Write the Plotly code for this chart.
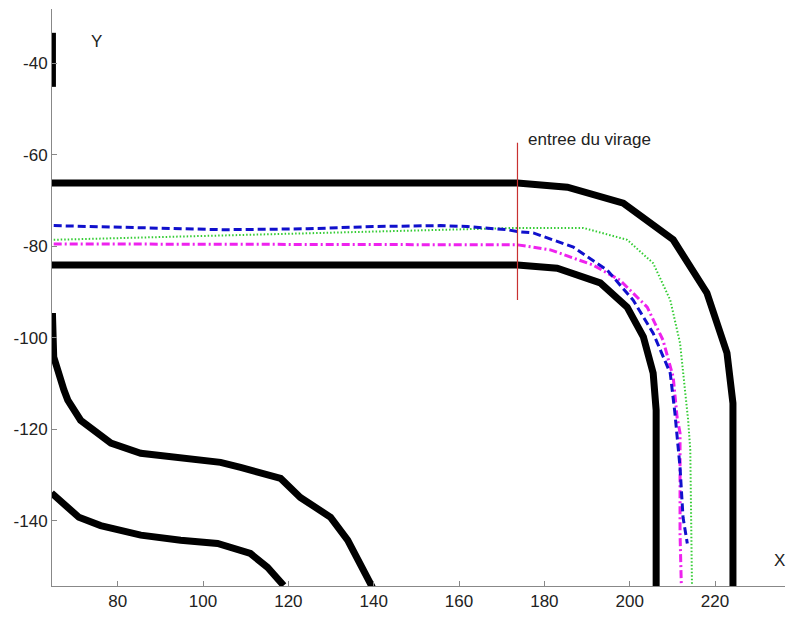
import plotly.graph_objects as go

# Track boundaries
outer_x = [64.6, 173.7, 185.4, 198.5, 210.2, 218.1, 222.8, 224.2, 224.2]
outer_y = [-66.2, -66.2, -67.1, -70.6, -78.6, -90.2, -103.3, -114.3, -154.2]
inner_x = [64.6, 173.7, 183.0, 193.1, 199.4, 203.2, 205.5, 206.2, 206.2]
inner_y = [-84.1, -84.1, -84.8, -88.0, -93.3, -99.8, -107.7, -115.8, -154.2]
left1_x = [64.7, 65.0, 67.4, 68.3, 71.3, 78.4, 85.4, 93.1, 104.1, 108.8, 118.2, 122.8, 129.9, 133.9, 139.2, 139.7]
left1_y = [-94.6, -104.2, -111.4, -113.6, -118.0, -123.0, -125.2, -126.1, -127.2, -128.3, -130.7, -134.85, -139.2, -144.2, -153.0, -154.5]
left2_x = [64.5, 70.9, 76.0, 85.4, 94.75, 103.4, 111.1, 115.1, 118.9]
left2_y = [-133.9, -139.2, -141.0, -143.1, -144.2, -144.9, -147.1, -150.1, -154.1]
top_seg_x = [64.7, 64.7]
top_seg_y = [-33.4, -45.2]

# Trajectories
blue_x = [65.0, 85.4, 104.8, 124.5, 139.9, 155.6, 161.9, 171.3, 173.7, 177.4, 186.8, 194.7, 200.8, 205.5, 209.5, 210.6, 211.8, 212.5, 213.5]
blue_y = [-75.5, -75.9, -76.4, -76.2, -75.7, -75.5, -75.7, -76.4, -76.8, -77.1, -80.2, -85.2, -91.75, -99.0, -107.7, -116.45, -128.3, -139.2, -144.9]
mag_x = [65.0, 173.7, 181.4, 191.4, 197.7, 204.1, 207.8, 210.2, 211.1, 211.8, 211.8, 211.8, 212.1]
mag_y = [-79.5, -79.7, -80.8, -84.1, -87.4, -93.3, -100.5, -108.6, -117.3, -120.8, -131.8, -142.7, -154.1]
green_x = [65.0, 108.8, 139.9, 155.6, 173.7, 189.1, 199.4, 205.5, 209.5, 211.8, 213.0, 213.7, 214.2, 214.4, 214.6]
green_y = [-78.6, -77.5, -76.8, -76.4, -76.0, -76.0, -78.6, -83.7, -91.75, -101.15, -112.1, -118.0, -124.5, -139.2, -154.1]

# Curve entry marker
entry_x = [173.7, 173.7]
entry_y = [-57.4, -91.75]

x_ticks = [80, 100, 120, 140, 160, 180, 200, 220]
x_labels = ["80", "100", "120", "140", "160", "180", "200", "220"]
y_ticks = [-140, -120, -100, -80, -60, -40]
y_labels = ["-140", "-120", "-100", "-80", "-60", "-40"]

fig = go.Figure()
for xs, ys in [(outer_x, outer_y), (inner_x, inner_y), (left1_x, left1_y),
               (left2_x, left2_y), (top_seg_x, top_seg_y)]:
    fig.add_trace(go.Scatter(x=xs, y=ys, mode="lines",
                             line=dict(color="black", width=7), showlegend=False))

fig.add_trace(go.Scatter(x=green_x, y=green_y, mode="lines",
                         line=dict(color="#33cc33", width=2, dash="1.5px,2px"), showlegend=False))
fig.add_trace(go.Scatter(x=mag_x, y=mag_y, mode="lines",
                         line=dict(color="#ee22ee", width=3, dash="8px,3px,2px,3px"), showlegend=False))
fig.add_trace(go.Scatter(x=blue_x, y=blue_y, mode="lines",
                         line=dict(color="#1010cc", width=3, dash="8px,4px"), showlegend=False))
fig.add_trace(go.Scatter(x=entry_x, y=entry_y, mode="lines",
                         line=dict(color="#c83030", width=1.2), showlegend=False))

tick_font = dict(family="Liberation Sans, Arial, sans-serif", size=17, color="#222")
label_font = dict(family="Liberation Sans, Arial, sans-serif", size=17, color="#222")
fig.add_annotation(x=175.6, y=-56.8, text="entree du virage", showarrow=False,
                   xanchor="left", yanchor="middle", font=label_font)
fig.add_annotation(x=75.1, y=-35.3, text="Y", showarrow=False, font=label_font)
fig.add_annotation(x=235.2, y=-148.6, text="X", showarrow=False, font=label_font)

axis_common = dict(showgrid=False, zeroline=False, showline=True, linecolor="#888",
                   linewidth=1, ticks="inside", ticklen=5, tickcolor="#888",
                   tickfont=tick_font, mirror=False, automargin=False)
fig.update_xaxes(range=[64.6, 236.4], tickvals=x_ticks, ticktext=x_labels, **axis_common)
fig.update_yaxes(range=[-154.2, -28.2], tickvals=y_ticks, ticktext=y_labels, **axis_common)
# page body has an 8px margin; size and margins compensate for it
fig.update_layout(width=787, height=609, plot_bgcolor="white", paper_bgcolor="white",
                  margin=dict(l=44, r=10, t=1, b=31), showlegend=False)

fig.write_html("out.html")
